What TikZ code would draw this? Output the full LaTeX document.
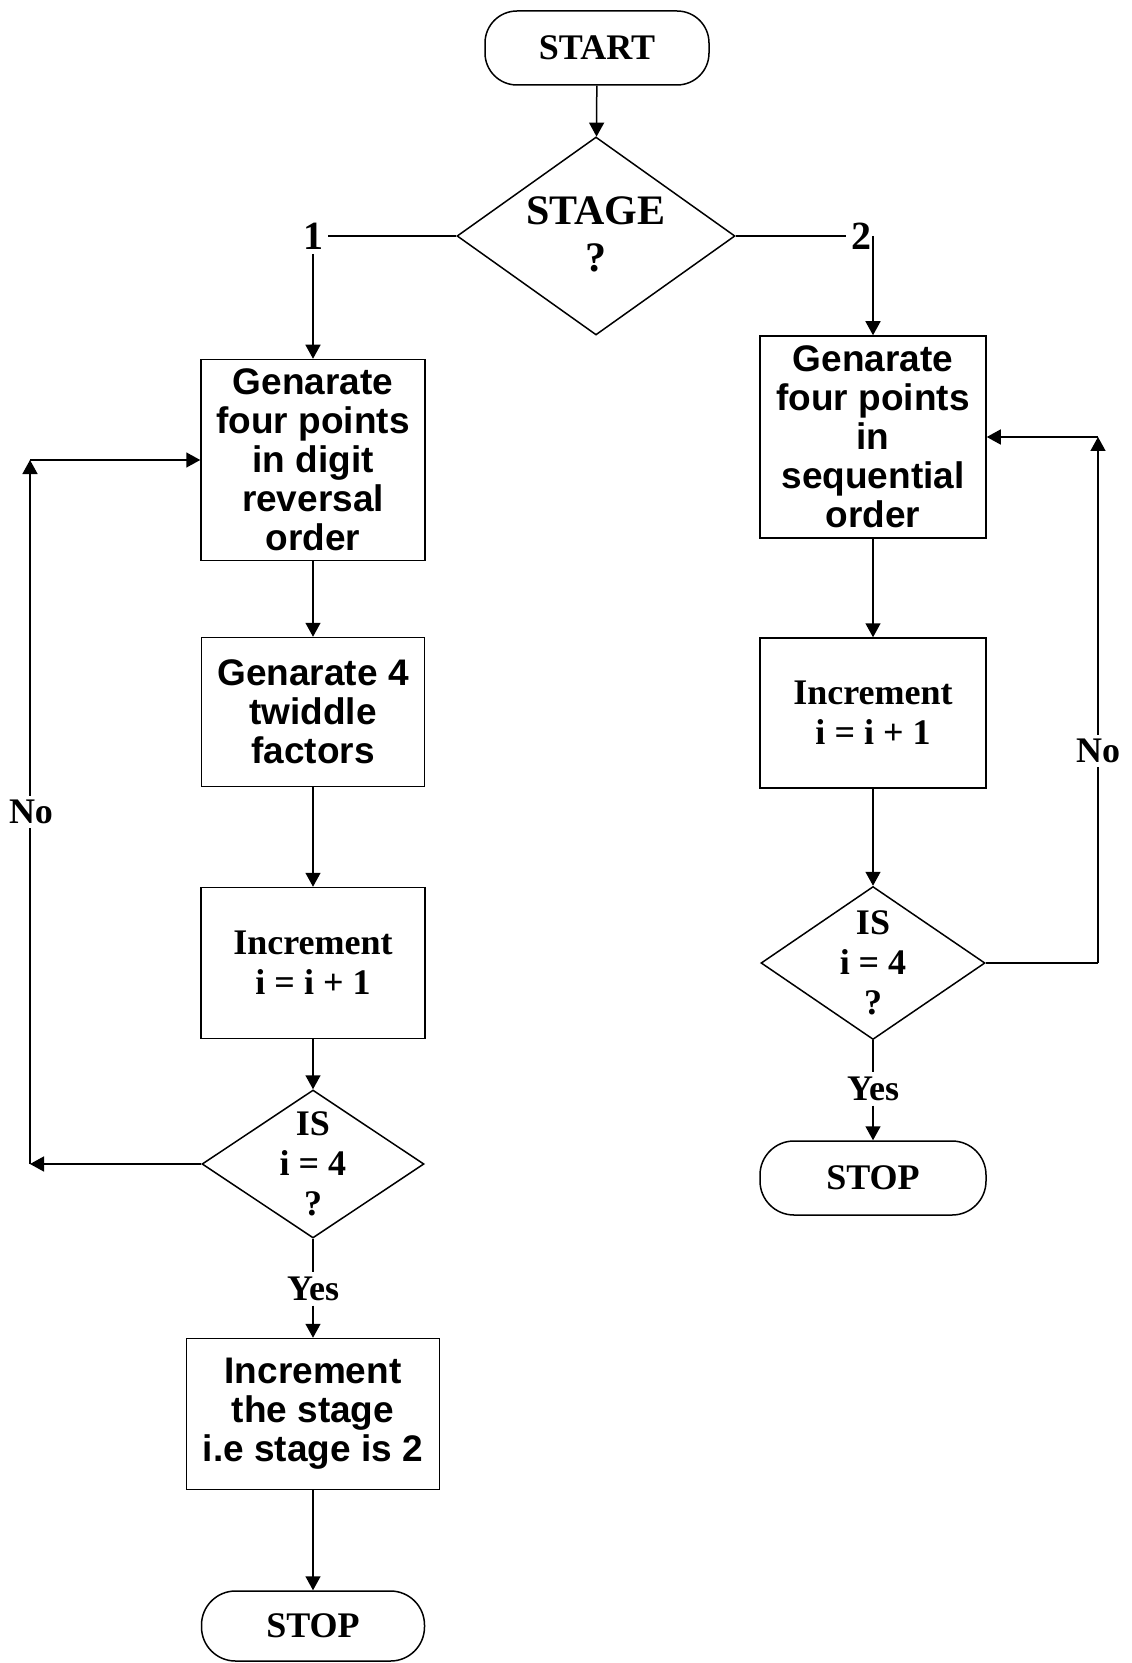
\documentclass[tikz,border=0pt]{standalone}
\usepackage{fontspec}
\setmainfont{Liberation Serif}
\newfontfamily\arialfont{Liberation Sans}
\usetikzlibrary{shapes.geometric,arrows.meta}
\begin{document}
\begin{tikzpicture}[x=0.5pt,y=-0.5pt,
  line width=0.75pt,
  arr/.style={-{Triangle[length=7pt,width=7.5pt]}},
  proc/.style={draw,rectangle,align=center,inner sep=0pt,
    font=\arialfont\bfseries\fontsize{18.5}{19.5}\selectfont},
  sproc/.style={draw,rectangle,align=center,inner sep=0pt,
    font=\bfseries\fontsize{18}{20}\selectfont},
  term/.style={draw,rectangle,rounded corners=17pt,
    font=\bfseries\fontsize{18}{20}\selectfont},
  dec/.style={draw,diamond,inner sep=0pt},
  lbl/.style={font=\bfseries\fontsize{18}{20}\selectfont,align=center,inner sep=2pt}]
\useasboundingbox (0,0) rectangle (1131,1663);

% top
\node[term,rounded corners=16pt,minimum width=112pt,minimum height=37pt] (start) at (597,48) {START};
\node[dec,minimum width=139pt,minimum height=99pt] (stage) at (596,236) {};
\node[lbl,font=\bfseries\fontsize{21}{23.5}\selectfont] (stagetxt) at (596,234) {STAGE\\?};
\node[lbl,font=\bfseries\fontsize{20}{22}\selectfont] (one) at (313,236) {1};
\node[lbl,font=\bfseries\fontsize{20}{22}\selectfont] (two) at (861,236) {2};

% left column
\node[proc,minimum width=112pt,minimum height=100.5pt] (b1) at (313,460)
  {Genarate\\four points\\in digit\\reversal\\order};
\node[proc,minimum width=111.5pt,minimum height=74.5pt] (b2) at (313,712)
  {Genarate 4\\twiddle\\factors};
\node[sproc,minimum width=112pt,minimum height=75.5pt] (b3) at (313,963)
  {Increment\\i = i + 1};
\node[dec,minimum width=111pt,minimum height=74pt] (dL) at (313,1164) {};
\node[lbl] (dLtxt) at (313,1164) {IS\\i = 4\\?};
\node[lbl] (yesL) at (313,1289) {Yes};
\node[proc,minimum width=126.5pt,minimum height=75.5pt] (b4) at (313,1414)
  {Increment\\the stage\\i.e stage is 2};
\node[term,minimum width=111.5pt,minimum height=35pt] (stopL) at (313,1626) {STOP};

% right column
\node[proc,minimum width=113pt,minimum height=101pt] (bR1) at (873,437)
  {Genarate\\four points\\in\\sequential\\order};
\node[sproc,minimum width=113pt,minimum height=75pt] (bR2) at (873,713)
  {Increment\\i = i + 1};
\node[dec,minimum width=112pt,minimum height=76.5pt] (dR) at (873,963) {};
\node[lbl] (dRtxt) at (873,963) {IS\\i = 4\\?};
\node[lbl] (yesR) at (873,1089) {Yes};
\node[term,minimum width=113pt,minimum height=37pt] (stopR) at (873,1178) {STOP};

% connectors
\draw[arr] (start) -- (stage);
\draw (stage.west) -- (one.east);
\draw[arr] (one.south) -- (b1.north);
\draw (stage.east) -- (two.west);
\draw[arr] (bR1.north |- two.center) -- (bR1.north);

\draw[arr] (b1) -- (b2);
\draw[arr] (b2) -- (b3);
\draw[arr] (b3) -- (dL);
\draw (dL.south) -- (yesL.north);
\draw[arr] (yesL.south) -- (b4.north);
\draw[arr] (b4) -- (stopL);

\draw[arr] (bR1) -- (bR2);
\draw[arr] (bR2) -- (dR);
\draw (dR.south) -- (yesR.north);
\draw[arr] (yesR.south) -- (stopR.north);

% left No loop
\coordinate (cLb) at (30,1164);
\coordinate (cLt) at (30,460);
\draw[arr] (dL.west) -- (cLb);
\draw[arr] (cLb) -- (cLt);
\draw[arr] (cLt) -- (b1.west);
\node[lbl,fill=white] (noL) at (31,812) {No};

% right No loop
\coordinate (cRb) at (1098,963);
\coordinate (cRt) at (1098,437);
\draw (dR.east) -- (cRb);
\draw[arr] (cRb) -- (cRt);
\draw[arr] (cRt) -- (bR1.east);
\node[lbl,fill=white] (noR) at (1098,751) {No};
\end{tikzpicture}
\end{document}
